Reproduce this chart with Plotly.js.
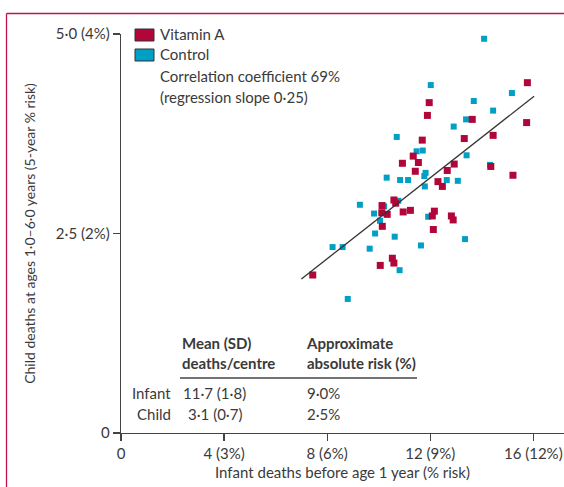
<!DOCTYPE html>
<html>
<head>
<meta charset="utf-8">
<script src="https://cdn.plot.ly/plotly-3.0.1.min.js"></script>
<style>
html,body{margin:0;padding:0;background:#fff;}
#chart{width:564px;height:487px;}
</style>
</head>
<body>
<div id="chart"></div>
<script>
// Data: x = infant deaths before age 1 year, y = child deaths at ages 1.0-6.0 years
var controlX = [10.70,11.47,11.71,13.41,11.82,11.77,10.31,10.83,11.14,12.64,13.07,11.79,10.76,9.27,10.21,9.82,10.05,11.92,9.86,10.62,13.35,8.21,8.60,9.65,11.64,10.81,8.80,14.09,12.02,15.17,13.69,14.44,13.39,12.91,14.32];
var controlY = [3.71,3.53,3.54,3.48,3.26,3.22,3.20,3.17,3.17,3.17,3.16,3.09,2.91,2.86,2.84,2.75,2.66,2.71,2.50,2.46,2.43,2.33,2.33,2.31,2.35,2.04,1.68,4.94,4.36,4.26,4.16,4.04,3.93,3.84,3.36];
var vitaminAX = [11.69,13.32,11.34,11.54,10.92,12.93,11.42,12.66,12.30,12.47,10.59,10.66,10.13,10.12,10.33,10.95,11.23,12.16,12.08,12.82,12.89,10.14,12.12,10.53,10.59,10.06,7.44,11.96,11.89,15.77,13.63,15.74,14.44,14.35,15.21];
var vitaminAY = [3.67,3.69,3.47,3.39,3.38,3.37,3.28,3.29,3.15,3.09,2.92,2.88,2.85,2.76,2.74,2.77,2.79,2.78,2.72,2.72,2.67,2.59,2.55,2.19,2.13,2.10,1.98,4.14,3.98,4.39,3.93,3.89,3.73,3.34,3.23];
var regressionX = [7.0, 16.03];
var regressionY = [1.93, 4.22];

var xTickVals = [0, 4, 8, 12, 16];
var xTickText = ["0", "4 (3%)", "8 (6%)", "12 (9%)", "16 (12%)"];
var yTickVals = [0, 2.5, 5];
var yTickText = ["0", "2\u00b75 (2%)", "5\u00b70 (4%)"];

var legendLabels = ["Vitamin A", "Control"];
var noteLines = ["Correlation coefficient 69%", "(regression slope 0\u00b725)"];
var tableHeaders = ["Mean (SD)<br>deaths/centre", "Approximate<br>absolute risk (%)"];
var tableRows = ["Infant", "Child"];
var tableMeans = ["11\u00b77 (1\u00b78)", "3\u00b71 (0\u00b77)"];
var tableRisks = ["9\u00b70%", "2\u00b75%"];

var RED = "#b0063a", BLUE = "#00a0c6", TXT = "#3a3a3a";
var FONT = "Lato, 'Open Sans', sans-serif";
var FS = 15;

// pixel -> paper helpers (plot area: x 121..564, y 34..433)
var L = 121, R = 564, T = 34, B = 433;
function px(x){ return (x - L) / (R - L); }
function py(y){ return (B - y) / (B - T); }

var traces = [
  {x: controlX, y: controlY, type: "scatter", mode: "markers", name: legendLabels[1],
   marker: {symbol: "square", size: 6, color: BLUE}, cliponaxis: false},
  {x: vitaminAX, y: vitaminAY, type: "scatter", mode: "markers", name: legendLabels[0],
   marker: {symbol: "square", size: 7, color: RED}, cliponaxis: false},
  {x: regressionX, y: regressionY, type: "scatter", mode: "lines",
   line: {color: "#333", width: 1.3}, name: "regression"}
];

var ann = [];
function txt(text, x, y, anchor){
  ann.push({text: text, xref: "paper", yref: "paper", x: px(x), y: py(y),
    xanchor: anchor, yanchor: "middle", showarrow: false, align: "left",
    font: {family: FONT, size: FS, color: TXT}});
}
// legend
txt(legendLabels[0], 158, 34, "left");
txt(legendLabels[1], 158, 54, "left");
txt(noteLines[0], 158, 76, "left");
txt(noteLines[1], 158, 97, "left");
// table
txt("<b>" + tableHeaders[0].replace("<br>", "</b><br><b>") + "</b>", 180, 353, "left");
txt("<b>" + tableHeaders[1].replace("<br>", "</b><br><b>") + "</b>", 304, 353, "left");
txt(tableRows[0], 173, 393, "right");
txt(tableRows[1], 173, 414, "right");
txt(tableMeans[0], 181, 393, "left");
txt(tableMeans[1], 186, 414, "left");
txt(tableRisks[0], 305, 393, "left");
txt(tableRisks[1], 305, 414, "left");

var shapes = [
  {type: "rect", xref: "paper", yref: "paper", x0: px(135), x1: px(154), y0: py(29), y1: py(41),
   fillcolor: RED, line: {color: "#333", width: 1}},
  {type: "rect", xref: "paper", yref: "paper", x0: px(135), x1: px(154), y0: py(49), y1: py(61),
   fillcolor: BLUE, line: {color: "#333", width: 1}},
  {type: "line", xref: "paper", yref: "paper", x0: px(180), x1: px(417), y0: py(378), y1: py(378),
   line: {color: "#444", width: 1.3}},
  // frame
  {type: "line", xref: "paper", yref: "paper", x0: px(6.5), x1: px(566), y0: py(13.5), y1: py(13.5),
   line: {color: "#c0154a", width: 1.3}},
  {type: "line", xref: "paper", yref: "paper", x0: px(6.5), x1: px(6.5), y0: py(13.5), y1: py(490),
   line: {color: "#c0154a", width: 1.3}}
];

var layout = {
  width: 564, height: 487,
  margin: {l: L, r: 0, t: T, b: 487 - B, pad: 0},
  paper_bgcolor: "#fff", plot_bgcolor: "#fff",
  showlegend: false,
  font: {family: FONT, size: FS, color: TXT},
  xaxis: {range: [0, (R - L) / 25.77], tickvals: xTickVals, ticktext: xTickText,
    showgrid: false, zeroline: false, showline: true, linecolor: "#444", linewidth: 1.3,
    ticks: "outside", ticklen: 7, tickcolor: "#444", tickwidth: 1.3,
    tickfont: {family: FONT, size: FS, color: TXT},
    title: {text: "Infant deaths before age 1 year (% risk)", standoff: 6, font: {family: FONT, size: FS, color: TXT}}},
  yaxis: {range: [0, 5], tickvals: yTickVals, ticktext: yTickText,
    showgrid: false, zeroline: false, showline: true, linecolor: "#444", linewidth: 1.3,
    ticks: "outside", ticklen: 7, tickcolor: "#444", tickwidth: 1.3,
    tickfont: {family: FONT, size: FS, color: TXT},
    title: {text: "Child deaths at ages 1\u00b70\u20136\u00b70 years (5-year % risk)", standoff: 17, font: {family: FONT, size: 14, color: TXT}}},
  annotations: ann,
  shapes: shapes
};

Plotly.newPlot("chart", traces, layout, {displayModeBar: false, staticPlot: true});
</script>
</body>
</html>
